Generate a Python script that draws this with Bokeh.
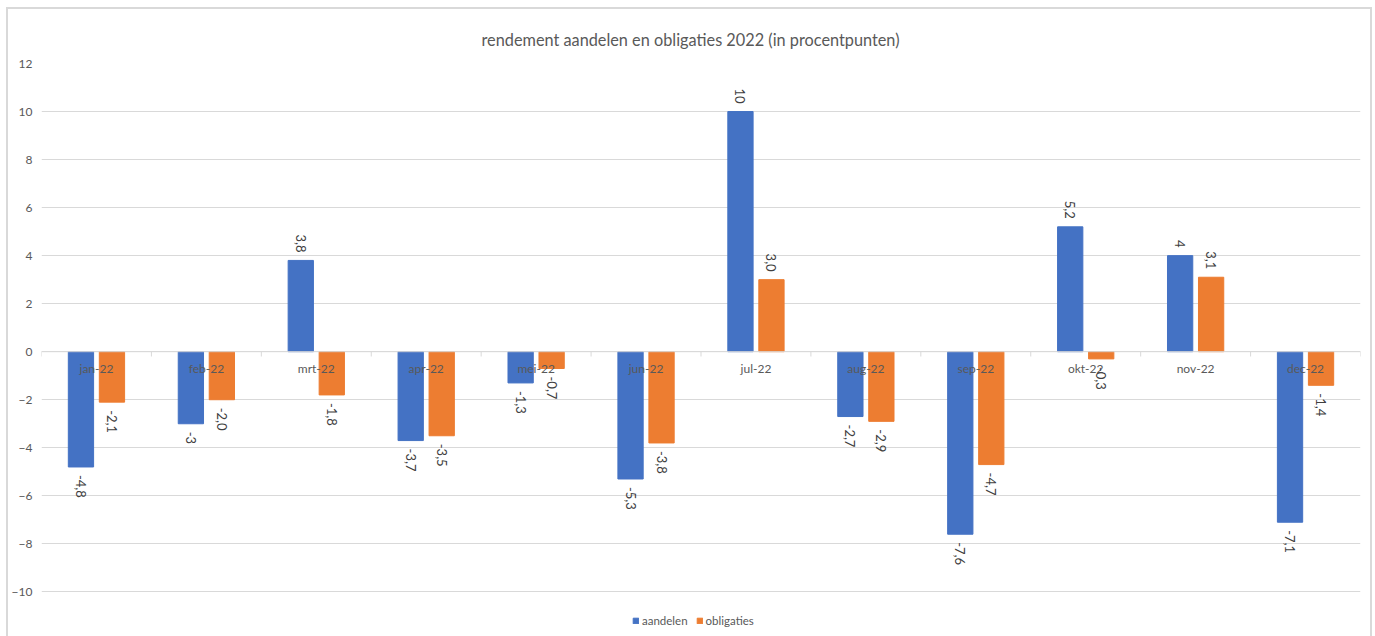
from bokeh.plotting import figure
from bokeh.models import (ColumnDataSource, FactorRange, Range1d, FixedTicker, Span,
                          Legend, LegendItem)
from bokeh.transform import dodge
from bokeh.core.properties import value
from bokeh.embed import file_html
from bokeh.resources import INLINE

months = ["jan-22", "feb-22", "mrt-22", "apr-22", "mei-22", "jun-22",
          "jul-22", "aug-22", "sep-22", "okt-22", "nov-22", "dec-22"]
aandelen = [-4.8, -3, 3.8, -3.7, -1.3, -5.3, 10, -2.7, -7.6, 5.2, 4, -7.1]
obligaties = [-2.1, -2.0, -1.8, -3.5, -0.7, -3.8, 3.0, -2.9, -4.7, -0.3, 3.1, -1.4]
aandelen_labels = ["-4,8", "-3", "3,8", "-3,7", "-1,3", "-5,3", "10", "-2,7", "-7,6", "5,2", "4", "-7,1"]
obligaties_labels = ["-2,1", "-2,0", "-1,8", "-3,5", "-0,7", "-3,8", "3,0", "-2,9", "-4,7", "-0,3", "3,1", "-1,4"]
y_ticks = [-10, -8, -6, -4, -2, 0, 2, 4, 6, 8, 10, 12]

FONT = "Lato"
GREY = "#595959"
BLUE = "#4472C4"
ORANGE = "#ED7D31"

p = figure(width=1362, height=627, x_range=FactorRange(*months, range_padding=0),
           y_range=Range1d(-11.9, 12), output_backend="svg", toolbar_location=None,
           min_border_left=30, min_border_right=14, min_border_top=54, min_border_bottom=1)
p.styles = {"box-sizing": "content-box", "border": "2px solid #D9D9D9",
            "border-bottom": "none", "margin-left": "6px", "margin-top": "7px"}

p.title.text = "rendement aandelen en obligaties 2022 (in procentpunten)"
p.title.align = "left"
p.title.text_font = FONT
p.title.text_font_size = "16.3px"
p.title.text_font_style = "normal"
p.title.text_color = GREY
p.title.standoff = 30
p.title.offset = 440

p.outline_line_color = None
p.xgrid.grid_line_color = None
p.ygrid.grid_line_color = "#D9D9D9"
p.ygrid.ticker = FixedTicker(ticks=y_ticks)
p.xaxis.visible = False

ya = p.yaxis[0]
ya.ticker = FixedTicker(ticks=y_ticks)
ya.axis_line_color = None
ya.major_tick_line_color = None
ya.minor_tick_line_color = None
ya.major_label_text_font = FONT
ya.major_label_text_font_size = "12px"
ya.major_label_text_color = GREY
ya.major_label_standoff = 3

src = ColumnDataSource(dict(month=months, aandelen=aandelen, obligaties=obligaties))

r1 = p.vbar(x=dodge("month", -0.141, range=p.x_range), top="aandelen", bottom=0, width=0.23,
            source=src, fill_color=BLUE, line_color=BLUE)
r2 = p.vbar(x=dodge("month", 0.141, range=p.x_range), top="obligaties", bottom=0, width=0.23,
            source=src, fill_color=ORANGE, line_color=ORANGE)

p.add_layout(Span(location=0, dimension="width", line_color="#D9D9D9", line_width=1))

# category tick marks at boundaries
bounds = list(range(len(months) + 1))
p.segment(x0=bounds, x1=bounds, y0=[0] * len(bounds), y1=[-0.2] * len(bounds),
          line_color="#D9D9D9", line_width=1)

# category labels just below zero line
p.text(x=months, y=[0] * len(months), text=months, text_align="center", text_baseline="middle",
       y_offset=17, text_font=value(FONT), text_font_size="12px", text_color=GREY)


def add_labels(vals, labels, d):
    pos_src = ColumnDataSource(dict(m=[m for m, v in zip(months, vals) if v >= 0],
                                    v=[v for v in vals if v >= 0],
                                    t=[l for l, v in zip(labels, vals) if v >= 0]))
    neg_src = ColumnDataSource(dict(m=[m for m, v in zip(months, vals) if v < 0],
                                    v=[v for v in vals if v < 0],
                                    t=[l for l, v in zip(labels, vals) if v < 0]))
    for s, align, off in ((pos_src, "right", -8), (neg_src, "left", 8)):
        p.text(x=dodge("m", d, range=p.x_range), y="v", text="t", source=s,
               angle=-1.5708, text_align=align, text_baseline="middle", y_offset=off,
               text_font=value(FONT), text_font_size="13px", text_color="#404040")


add_labels(aandelen, aandelen_labels, -0.141)
add_labels(obligaties, obligaties_labels, 0.141)

legend = Legend(items=[LegendItem(label="aandelen", renderers=[r1]),
                       LegendItem(label="obligaties", renderers=[r2])],
                orientation="horizontal", location=(591, 10),
                label_text_font=FONT, label_text_font_size="11.5px", label_text_color=GREY,
                glyph_width=7, glyph_height=7, label_standoff=3, spacing=8,
                border_line_color=None, background_fill_alpha=0, padding=2, margin=0)
p.add_layout(legend, "center")

out = file_html(p, INLINE)
open("out.html", "w").write(out)
